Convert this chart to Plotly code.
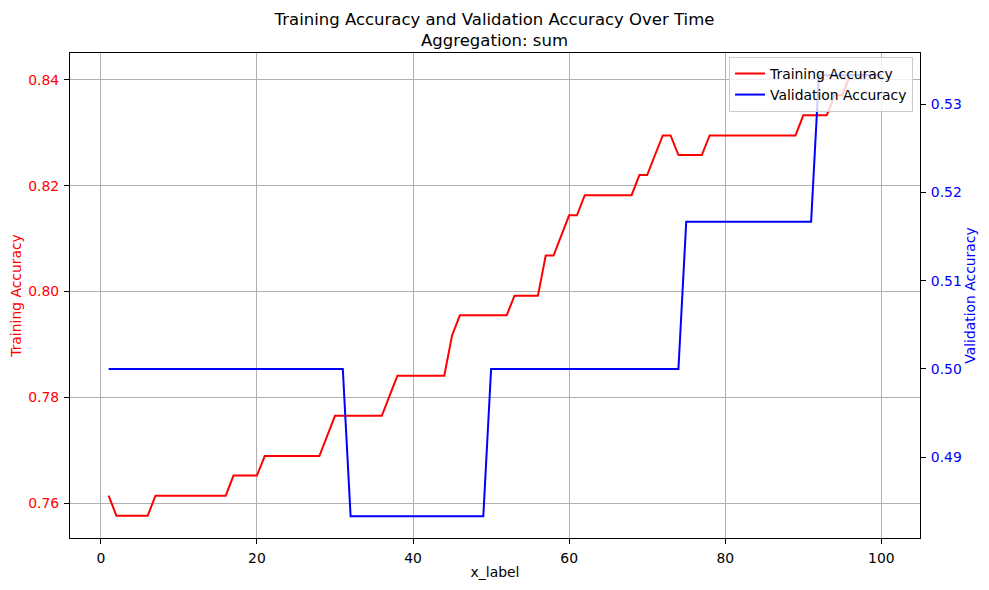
import plotly.graph_objects as go

# epochs 1..100
epochs = list(range(1, 101))

# training accuracy
train_acc = [
    0.7614, 0.7576, 0.7576, 0.7576, 0.7576, 0.7576, 0.7614, 0.7614, 0.7614, 0.7614,
    0.7614, 0.7614, 0.7614, 0.7614, 0.7614, 0.7614, 0.7652, 0.7652, 0.7652, 0.7652,
    0.7689, 0.7689, 0.7689, 0.7689, 0.7689, 0.7689, 0.7689, 0.7689, 0.7727, 0.7765,
    0.7765, 0.7765, 0.7765, 0.7765, 0.7765, 0.7765, 0.7803, 0.7841, 0.7841, 0.7841,
    0.7841, 0.7841, 0.7841, 0.7841, 0.7917, 0.7955, 0.7955, 0.7955, 0.7955, 0.7955,
    0.7955, 0.7955, 0.7992, 0.7992, 0.7992, 0.7992, 0.8068, 0.8068, 0.8106, 0.8144,
    0.8144, 0.8182, 0.8182, 0.8182, 0.8182, 0.8182, 0.8182, 0.8182, 0.8220, 0.8220,
    0.8258, 0.8295, 0.8295, 0.8258, 0.8258, 0.8258, 0.8258, 0.8295, 0.8295, 0.8295,
    0.8295, 0.8295, 0.8295, 0.8295, 0.8295, 0.8295, 0.8295, 0.8295, 0.8295, 0.8333,
    0.8333, 0.8333, 0.8333, 0.8371, 0.8371, 0.8409, 0.8409, 0.8409, 0.8409, 0.8409,
]

# validation accuracy
val_acc = [
    0.5, 0.5, 0.5, 0.5, 0.5, 0.5, 0.5, 0.5, 0.5, 0.5,
    0.5, 0.5, 0.5, 0.5, 0.5, 0.5, 0.5, 0.5, 0.5, 0.5,
    0.5, 0.5, 0.5, 0.5, 0.5, 0.5, 0.5, 0.5, 0.5, 0.5,
    0.5, 0.4833, 0.4833, 0.4833, 0.4833, 0.4833, 0.4833, 0.4833, 0.4833, 0.4833,
    0.4833, 0.4833, 0.4833, 0.4833, 0.4833, 0.4833, 0.4833, 0.4833, 0.4833, 0.5,
    0.5, 0.5, 0.5, 0.5, 0.5, 0.5, 0.5, 0.5, 0.5, 0.5,
    0.5, 0.5, 0.5, 0.5, 0.5, 0.5, 0.5, 0.5, 0.5, 0.5,
    0.5, 0.5, 0.5, 0.5, 0.5167, 0.5167, 0.5167, 0.5167, 0.5167, 0.5167,
    0.5167, 0.5167, 0.5167, 0.5167, 0.5167, 0.5167, 0.5167, 0.5167, 0.5167, 0.5167,
    0.5167, 0.5333, 0.5333, 0.5333, 0.5333, 0.5333, 0.5333, 0.5333, 0.5333, 0.5333,
]

x_ticks = [0, 20, 40, 60, 80, 100]
train_ticks = [0.76, 0.78, 0.80, 0.82, 0.84]
val_ticks = [0.49, 0.50, 0.51, 0.52, 0.53]

FONT = "DejaVu Sans"

fig = go.Figure()
fig.add_trace(go.Scatter(x=epochs, y=train_acc, mode="lines", name="Training Accuracy",
                         line=dict(color="red", width=2)))
fig.add_trace(go.Scatter(x=epochs, y=val_acc, mode="lines", name="Validation Accuracy",
                         line=dict(color="blue", width=2), yaxis="y2"))

axis_common = dict(showline=True, linecolor="black", linewidth=1.1,
                   ticks="outside", ticklen=5, tickwidth=1.1, tickcolor="black",
                   zeroline=False, ticklabelstandoff=2, automargin=False)

# the page body has an 8px margin, so the figure is a bit smaller than the window
fig.update_layout(
    width=973, height=574,
    paper_bgcolor="white", plot_bgcolor="white",
    margin=dict(l=62, r=61, t=45, b=44, autoexpand=False),
    font=dict(family=FONT, size=13.9, color="black"),
    title=dict(text="Training Accuracy and Validation Accuracy Over Time<br>Aggregation: sum",
               x=0.5, xanchor="center", y=0.9707, yanchor="middle", yref="container",
               font=dict(family=FONT, size=16.5, color="black")),
    xaxis=dict(range=[-3.95, 104.95], tickvals=x_ticks, mirror=True,
               showgrid=True, gridcolor="#b0b0b0", gridwidth=1.1,
               title=dict(text="x_label", standoff=2, font=dict(size=13.9)),
               **axis_common),
    yaxis=dict(range=[0.75341, 0.84508], tickvals=train_ticks, tickformat=".2f",
               showgrid=True, gridcolor="#b0b0b0", gridwidth=1.1,
               tickfont=dict(color="red"),
               title=dict(text="Training Accuracy", standoff=4, font=dict(color="red", size=13.9)),
               **axis_common),
    yaxis2=dict(range=[0.48083, 0.53583], tickvals=val_ticks, tickformat=".2f",
                overlaying="y", side="right", showgrid=False,
                tickfont=dict(color="blue"),
                title=dict(text="Validation Accuracy", standoff=4, font=dict(color="blue", size=13.9)),
                **axis_common),
    legend=dict(x=0.9918, y=0.9918, xanchor="right", yanchor="top",
                bgcolor="rgba(255,255,255,0.8)", bordercolor="#cccccc", borderwidth=1,
                font=dict(family=FONT, size=13.9, color="black"),
                tracegroupgap=0, itemwidth=30),
    showlegend=True,
)

fig.write_html("out.html")
